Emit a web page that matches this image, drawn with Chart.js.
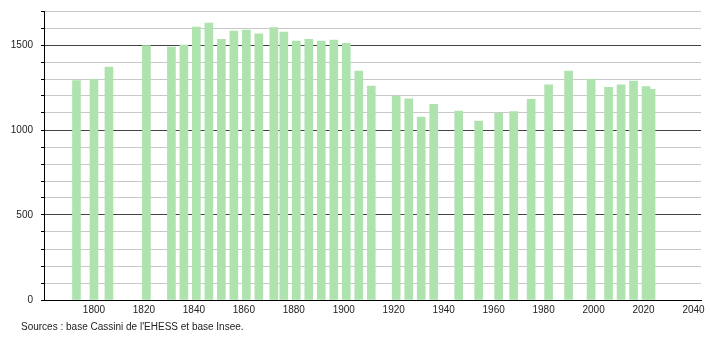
<!DOCTYPE html>
<html>
<head>
<meta charset="utf-8">
<script src="https://cdn.jsdelivr.net/npm/chart.js@4/dist/chart.umd.min.js"></script>
<style>
    html, body { margin: 0; padding: 0; background: #fff; }
    #wrap { position: relative; width: 710px; height: 340px; }
    #source {
        position: absolute; left: 21px; top: 321px;
        font: 10px "Liberation Sans", Arial, sans-serif; color: #222;
        white-space: nowrap;
    }
</style>
</head>
<body>
<div id="wrap">
    <canvas id="myChart" width="710" height="340"></canvas>
    <div id="source">Sources : base Cassini de l'EHESS et base Insee.</div>
</div>
<script>
// census years and population
const years = [1793, 1800, 1806, 1821, 1831, 1836, 1841, 1846, 1851, 1856, 1861, 1866, 1872, 1876,
    1881, 1886, 1891, 1896, 1901, 1906, 1911, 1921, 1926, 1931, 1936, 1946, 1954, 1962, 1968,
    1975, 1982, 1990, 1999, 2006, 2011, 2016, 2021, 2023];
const population = [1290, 1298, 1370, 1496, 1488, 1500, 1606, 1629, 1533, 1582, 1588, 1565, 1602, 1576,
    1523, 1533, 1523, 1529, 1510, 1347, 1259, 1200, 1184, 1076, 1151, 1112, 1053, 1098, 1108,
    1180, 1265, 1347, 1298, 1251, 1265, 1288, 1255, 1239];
const xTicks = [1800, 1820, 1840, 1860, 1880, 1900, 1920, 1940, 1960, 1980, 2000, 2020, 2040];

const font = { family: "'Liberation Sans', Arial, sans-serif", size: 10 };

const ctx = document.getElementById('myChart').getContext('2d');
new Chart(ctx, {
    type: 'bar',
    data: {
        datasets: [{
            data: years.map((y, i) => ({ x: y, y: population[i] })),
            backgroundColor: '#aee3ae',
            borderWidth: 0,
            barThickness: 8
        }]
    },
    options: {
        responsive: false,
        animation: false,
        layout: { padding: { top: 11, right: 9, left: 0, bottom: 0 } },
        plugins: {
            legend: { display: false },
            tooltip: { enabled: false }
        },
        scales: {
            x: {
                type: 'linear',
                min: 1780,
                max: 2043,
                offset: false,
                afterBuildTicks: scale => { scale.ticks = xTicks.map(v => ({ value: v })); },
                afterFit: scale => { scale.height = 40; },
                grid: { display: false, drawTicks: false, offset: false },
                border: { color: '#000', width: 1 },
                ticks: {
                    color: '#222', font: font, padding: 4, maxRotation: 0, autoSkip: false,
                    callback: v => String(v)
                }
            },
            y: {
                min: 0,
                max: 1700,
                afterFit: scale => {
                    scale.width = 44;
                    // no extra room above/below for the labels
                    scale.paddingTop = 0;
                    scale.paddingBottom = 0;
                },
                grid: {
                    color: c => (c.tick && c.tick.value % 500 === 0) ? '#444' : '#c8c8c8',
                    tickColor: '#000',
                    tickLength: 3
                },
                border: { color: '#000', width: 1 },
                ticks: {
                    stepSize: 100,
                    color: '#222',
                    font: font,
                    padding: 8,
                    callback: v => (v % 500 === 0 ? String(v) : '')
                }
            }
        }
    }
});
</script>
</body>
</html>
